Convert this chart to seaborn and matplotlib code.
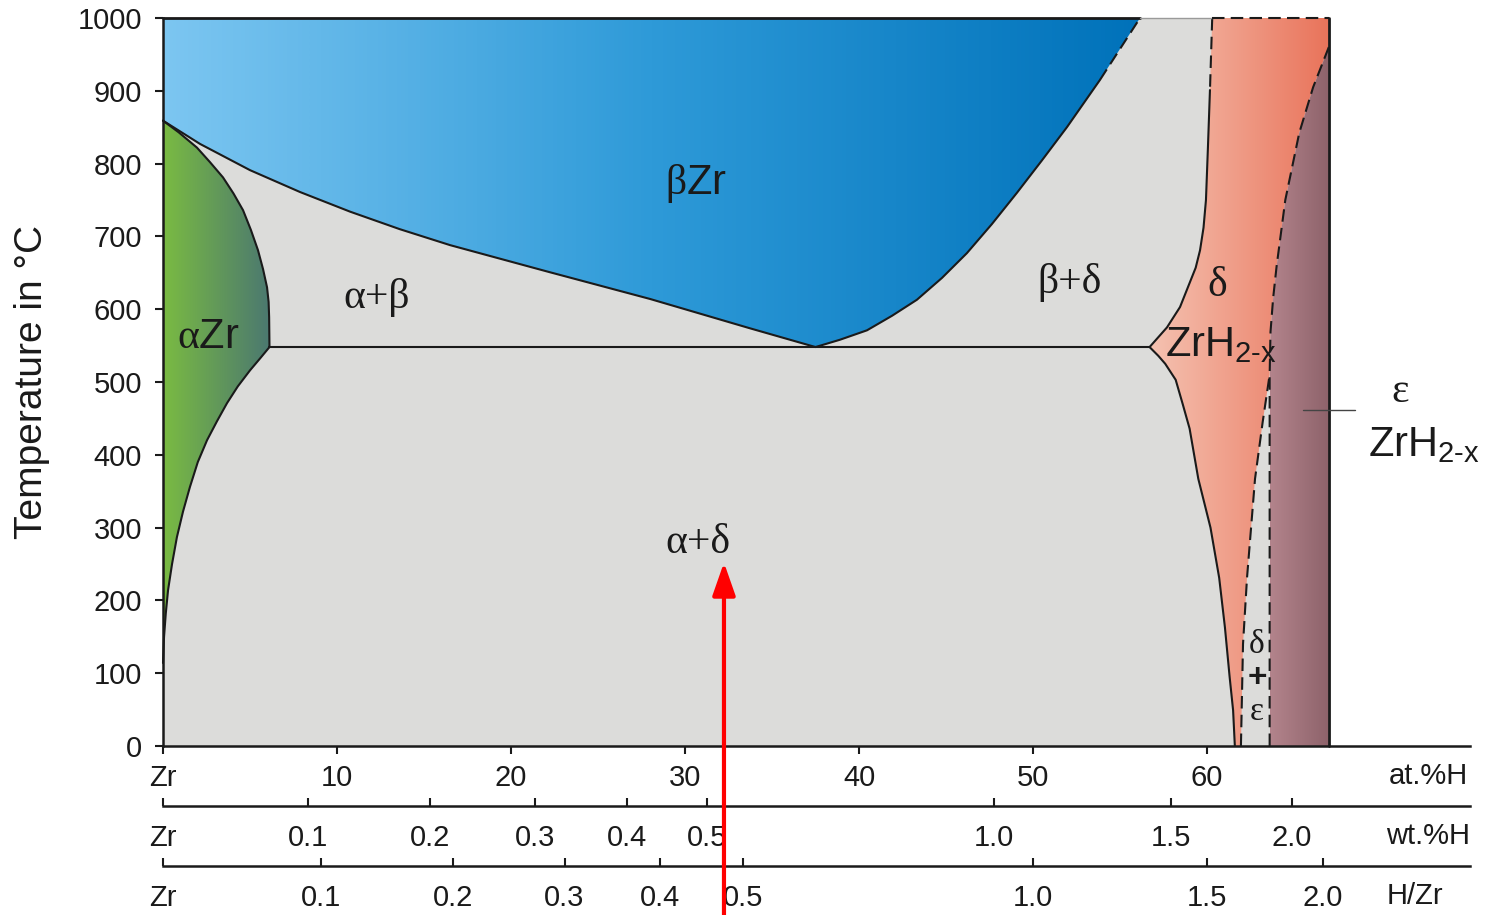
import numpy as np
import matplotlib
matplotlib.use("Agg")
import matplotlib.pyplot as plt
import seaborn as sns
from matplotlib.patches import Polygon, Rectangle
from matplotlib.colors import LinearSegmentedColormap

# ---------------- phase boundaries (at.% H, temperature in °C) ----------------
BETA_LEFT_AT = [0, 2.13, 5.0, 7.87, 10.75, 13.6, 16.5, 22.2, 28.0, 33.7, 37.5]
BETA_LEFT_T = [859, 827, 791, 761, 734, 710, 688, 651, 614, 574, 548]

BETA_RIGHT_AT = [37.5, 38.9, 40.46, 41.9, 43.33, 44.77, 46.2, 47.64, 49.08,
                 50.5, 51.95, 53.85]
BETA_RIGHT_T = [548, 558, 571, 591, 613, 643, 677, 717, 760, 804, 850, 915]
BETA_RIGHT_DASH_AT = [53.85, 56.15]
BETA_RIGHT_DASH_T = [915, 1000]

ALPHA_UP_AT = [0, 0.9, 1.95, 2.7, 3.45, 4.05, 4.6, 5.05, 5.46, 5.75, 5.98,
               6.07, 6.1, 6.12]
ALPHA_UP_T = [859, 843, 822, 802, 781, 759, 736, 709, 681, 655, 630,
              610, 589, 548]
ALPHA_LOW_AT = [6.12, 5.6, 5.0, 4.3, 3.68, 3.1, 2.53, 2.0, 1.55, 1.15, 0.80,
                0.52, 0.29, 0.16, 0.06, 0]
ALPHA_LOW_T = [548, 533, 516, 494, 471, 446, 420, 390, 356, 322, 287,
               250, 214, 182, 150, 114]

EUTECTOID_AT = [6.12, 56.7]
EUTECTOID_T = [548, 548]

DELTA_UP_DASH_AT = [60.3, 60.17]
DELTA_UP_DASH_T = [1000, 901]
DELTA_UP_AT = [60.17, 60.05, 59.94, 59.8, 59.6, 59.35, 59.0, 58.45, 57.7,
               56.7]
DELTA_UP_T = [901, 820, 750, 712, 681, 657, 636, 603, 575, 548]
DELTA_LOW_AT = [56.7, 57.2, 57.6, 58.2, 58.6, 59.0, 59.5, 60.2, 60.7, 61.03,
                61.3, 61.5, 61.6]
DELTA_LOW_T = [548, 536, 525, 503, 470, 436, 367, 300, 231, 163, 95, 49, 0]

DELTA_EPS_AT = [61.95, 62.07, 62.3, 62.76, 63.2, 63.6]
DELTA_EPS_T = [0, 140, 231, 367, 445, 510]

EPS_AT = [63.6, 63.6, 63.65, 63.8, 64.0, 64.5, 65.3, 66.1, 67.0]
EPS_T = [0, 510, 569, 615, 659, 750, 842, 905, 960]

DIAGRAM_EDGE_AT = 67.0
MEASURE_AT = 32.24
MEASURE_T = 252

# ---------------- axis scales ----------------
AT_TICKS = [0, 10, 20, 30, 40, 50, 60]
AT_LABELS = ["Zr", "10", "20", "30", "40", "50", "60"]
WT_TICKS = [0, 0.1, 0.2, 0.3, 0.4, 0.5, 1.0, 1.5, 2.0]
WT_LABELS = ["Zr", "0.1", "0.2", "0.3", "0.4", "0.5", "1.0", "1.5", "2.0"]
HZR_TICKS = [0, 0.1, 0.2, 0.3, 0.4, 0.5, 1.0, 1.5, 2.0]
HZR_LABELS = ["Zr", "0.1", "0.2", "0.3", "0.4", "0.5", "1.0", "1.5", "2.0"]
T_TICKS = list(range(0, 1001, 100))

M_H, M_ZR = 1.008, 91.224


def at_to_wt(a):
    a = np.clip(np.asarray(a, dtype=float), 0, 99.9)
    return a * M_H / (a * M_H + (100 - a) * M_ZR) * 100


def wt_to_at(w):
    w = np.clip(np.asarray(w, dtype=float), 0, 99.9)
    return (w / M_H) / (w / M_H + (100 - w) / M_ZR) * 100


def at_to_ratio(a):
    a = np.clip(np.asarray(a, dtype=float), 0, 99.9)
    return a / (100 - a)


def ratio_to_at(r):
    r = np.clip(np.asarray(r, dtype=float), 0, 1e6)
    return 100 * r / (1 + r)


# ---------------- style ----------------
sns.set_theme(style="white")
plt.rcParams["font.family"] = ["Liberation Sans", "DejaVu Sans"]
plt.rcParams["mathtext.fontset"] = "custom"
plt.rcParams["mathtext.rm"] = "Liberation Serif"
plt.rcParams["mathtext.sf"] = "Liberation Sans"

EDGE = "#1a1a1a"
GREY = "#dcdcda"
TXT = "#1a1a1a"
SERIF = ["Liberation Serif", "DejaVu Serif"]

fig = plt.figure(figsize=(14.85, 9.15), dpi=100)
fig.patch.set_facecolor("white")
ax = fig.add_axes([163 / 1485, 169 / 915, (1470 - 163) / 1485, 728 / 915])
ax.set_facecolor("white")

XMAX = (1470 - 163) / 17.4


def gradient_region(xs, ys, x0, x1, colors, z):
    poly = Polygon(np.column_stack([xs, ys]), closed=True,
                   facecolor="none", edgecolor="none")
    ax.add_patch(poly)
    cmap = LinearSegmentedColormap.from_list("fill", colors)
    im = ax.imshow(np.linspace(0, 1, 256)[None, :], extent=[x0, x1, 0, 1000],
                   aspect="auto", cmap=cmap, origin="lower", zorder=z,
                   interpolation="bilinear")
    im.set_clip_path(poly)


# two-phase background
ax.add_patch(Rectangle((0, 0), DIAGRAM_EDGE_AT, 1000, facecolor=GREY,
                       edgecolor="none", zorder=1))

# beta-Zr field
beta_x = BETA_LEFT_AT + BETA_RIGHT_AT[1:] + BETA_RIGHT_DASH_AT[1:] + [0]
beta_y = BETA_LEFT_T + BETA_RIGHT_T[1:] + BETA_RIGHT_DASH_T[1:] + [1000]
gradient_region(beta_x, beta_y, 0, 56.15, ["#7cc6f1", "#2e9ad8", "#0072ba"], 2)

# alpha-Zr field
alpha_x = ALPHA_UP_AT + ALPHA_LOW_AT[1:]
alpha_y = ALPHA_UP_T + ALPHA_LOW_T[1:]
gradient_region(alpha_x, alpha_y, 0, 6.12, ["#7abb42", "#4b7870"], 2)

# delta hydride field
delta_x = (DELTA_UP_DASH_AT + DELTA_UP_AT[1:] + DELTA_LOW_AT[1:]
           + DELTA_EPS_AT + EPS_AT[2:] + [DIAGRAM_EDGE_AT])
delta_y = (DELTA_UP_DASH_T + DELTA_UP_T[1:] + DELTA_LOW_T[1:]
           + DELTA_EPS_T + EPS_T[2:] + [1000])
gradient_region(delta_x, delta_y, 56.7, DIAGRAM_EDGE_AT,
                ["#f5c2b1", "#e9735a"], 2)

# epsilon hydride field
eps_x = EPS_AT + [DIAGRAM_EDGE_AT]
eps_y = EPS_T + [0]
gradient_region(eps_x, eps_y, 63.6, DIAGRAM_EDGE_AT, ["#b3848c", "#8d626a"], 2)


def boundary(xs, ys, dashed=False, lw=1.5, color=EDGE):
    sns.lineplot(x=xs, y=ys, sort=False, estimator=None, ax=ax, color=color,
                 lw=lw, linestyle=(0, (6, 3)) if dashed else "-", zorder=5,
                 clip_on=False, solid_joinstyle="round")


boundary(BETA_LEFT_AT, BETA_LEFT_T)
boundary(BETA_RIGHT_AT, BETA_RIGHT_T)
boundary(BETA_RIGHT_DASH_AT, BETA_RIGHT_DASH_T, dashed=True)
boundary(ALPHA_UP_AT, ALPHA_UP_T)
boundary(ALPHA_LOW_AT, ALPHA_LOW_T)
boundary(EUTECTOID_AT, EUTECTOID_T)
boundary(DELTA_UP_DASH_AT, DELTA_UP_DASH_T, dashed=True)
boundary(DELTA_UP_AT, DELTA_UP_T)
boundary(DELTA_LOW_AT, DELTA_LOW_T)
boundary(DELTA_EPS_AT, DELTA_EPS_T, dashed=True)
boundary(EPS_AT, EPS_T, dashed=True)

# frame of the diagram
boundary([0, 56.15], [1000, 1000], lw=2.0)
boundary([56.15, 60.3], [1000, 1000], lw=1.0, color="#9a9a9a")
boundary([60.3, DIAGRAM_EDGE_AT], [1000, 1000], dashed=True)
boundary([DIAGRAM_EDGE_AT, DIAGRAM_EDGE_AT], [0, 1000], lw=2.0)

# field labels
lab = dict(fontsize=30, color=TXT, ha="center", va="center", zorder=6)
ax.text(30.6, 773, r"$\mathrm{\beta}$Zr", **lab)
ax.text(2.6, 562, r"$\mathrm{\alpha}$Zr", **lab)
ax.text(12.3, 616, "α+β", family=SERIF, **lab)
ax.text(52.1, 636, "β+δ", family=SERIF, **lab)
ax.text(30.75, 279, "α+δ", family=SERIF, **lab)
ax.text(60.6, 632, "δ", family=SERIF, **lab)
ax.text(57.6, 536, r"ZrH$_{\mathsf{2‐x}}$", fontsize=30, color=TXT,
        ha="left", va="baseline", zorder=6)
ax.text(71.1, 486, "ε", family=SERIF, **lab)
ax.text(69.25, 398, r"ZrH$_{\mathsf{2‐x}}$", fontsize=30, color=TXT,
        ha="left", va="baseline", zorder=6, clip_on=False)
ax.plot([65.5, 68.5], [461, 461], color="#444444", lw=1.0, zorder=6,
        clip_on=False)
small = dict(fontsize=24, color=TXT, ha="center", va="center", zorder=6)
ax.text(62.87, 139, "δ", family=SERIF, **small)
ax.text(62.87, 93, "+", fontweight="bold", **small)
ax.text(62.87, 47, "ε", family=SERIF, **small)

# measurement arrow
ax.annotate("", xy=(MEASURE_AT, MEASURE_T), xytext=(MEASURE_AT, -240),
            arrowprops=dict(arrowstyle="-|>,head_length=1.0,head_width=0.35",
                            color="#ff0000", lw=3, mutation_scale=20,
                            shrinkA=0, shrinkB=0),
            annotation_clip=False, zorder=10)

# ---------------- axes ----------------
ax.set_xlim(0, XMAX)
ax.set_ylim(0, 1000)
ax.grid(False)
for side in ("top", "right"):
    ax.spines[side].set_visible(False)
for side in ("left", "bottom"):
    ax.spines[side].set_color(EDGE)
    ax.spines[side].set_linewidth(1.8)
    ax.spines[side].set_zorder(7)

ax.set_xticks(AT_TICKS, AT_LABELS)
ax.set_yticks(T_TICKS)
ax.tick_params(axis="both", which="major", bottom=True, left=True,
               direction="out", length=6, width=1.5, color=EDGE,
               labelsize=21, labelcolor=TXT)
ax.tick_params(axis="x", pad=7)
ax.tick_params(axis="y", pad=9)
ax.set_ylabel("Temperature in °C", fontsize=28, color=TXT, labelpad=20)

for loc, fwd, inv, ticks, labels in (
        (-60 / 728, at_to_wt, wt_to_at, WT_TICKS, WT_LABELS),
        (-120 / 728, at_to_ratio, ratio_to_at, HZR_TICKS, HZR_LABELS)):
    sec = ax.secondary_xaxis(loc, functions=(fwd, inv))
    sec.set_xticks(ticks, labels)
    sec.tick_params(axis="x", direction="in", length=6, width=1.5,
                    color=EDGE, labelsize=21, labelcolor=TXT, pad=13)
    sec.spines["bottom"].set_color(EDGE)
    sec.spines["bottom"].set_linewidth(1.8)

unit = dict(fontsize=21, color=TXT, ha="center", va="center")
fig.text(1428 / 1485, 1 - 776 / 915, "at.%H", **unit)
fig.text(1428 / 1485, 1 - 836 / 915, "wt.%H", **unit)
fig.text(1415 / 1485, 1 - 896 / 915, "H/Zr", **unit)

fig.savefig("out.png", dpi=100, facecolor="white")
